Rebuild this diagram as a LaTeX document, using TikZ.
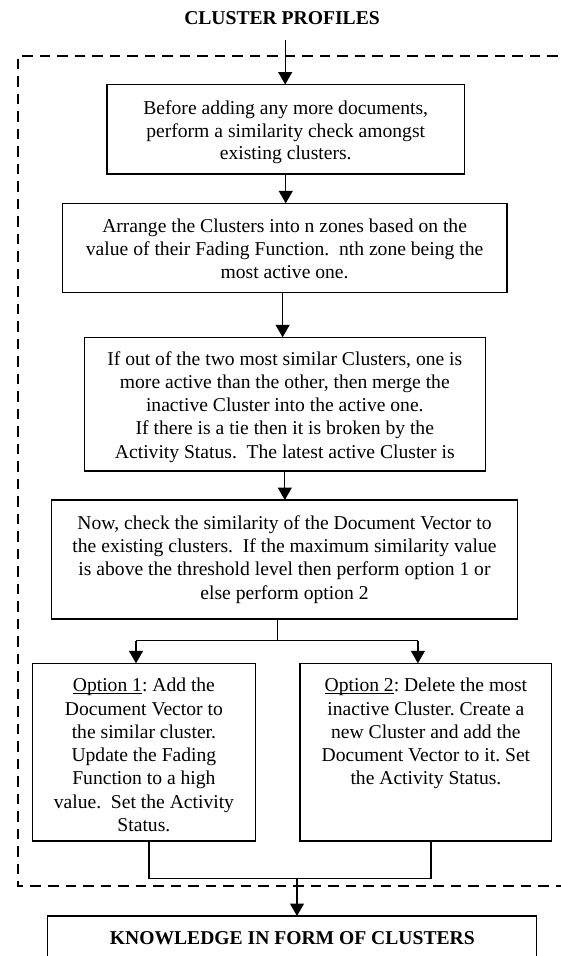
\documentclass[tikz,border=0pt]{standalone}
\usepackage{fontspec}
\setmainfont{Liberation Serif}
\usetikzlibrary{arrows.meta}
\newsavebox{\ulbox}
\newcommand{\myul}[1]{\sbox{\ulbox}{#1}\rlap{\rule[-2.2pt]{\wd\ulbox}{0.9pt}}\usebox{\ulbox}}
\newcommand{\mlines}[1]{\begin{tabular}[t]{@{}c@{}}#1\end{tabular}}
\newcommand{\bodyfont}{\fontsize{19.6}{23.3}\selectfont\frenchspacing}
\newcommand{\bodyfontb}{\fontsize{19.6}{22.8}\selectfont\frenchspacing}
\frenchspacing
\begin{document}
\begin{tikzpicture}[x=1pt,y=-1pt,
  box/.style={draw, line width=1.25pt, inner sep=0pt, outer sep=0pt, anchor=north west},
  txt/.style={inner sep=0pt, outer sep=0pt, anchor=base, font=\bodyfont},
  conn/.style={line width=1.25pt},
  arr/.style={conn, -{Triangle[width=14pt,length=12.5pt]}},
  dashbox/.style={line width=2pt, dash pattern=on 10.5pt off 7pt}]
\useasboundingbox (0,0) rectangle (561,956);
% dashed frame (right side runs off the page)
\draw[dashbox] (575,56) -- (17.5,56) -- (17.5,885.5) -- (575,885.5);
% title
\node[txt, font=\bodyfont\bfseries] (title) at (282,24) {CLUSTER PROFILES};
% boxes
\node[box, minimum width=357.5pt, minimum height=89.5pt] (b1) at (107,84.5) {};
\node[box, minimum width=444.7pt, minimum height=89.4pt] (b2) at (62.3,203.3) {};
\node[box, minimum width=400.8pt, minimum height=133.7pt] (b3) at (84.4,337.3) {};
\node[box, minimum width=466.5pt, minimum height=119pt] (b4) at (51.2,500) {};
\node[box, minimum width=223.2pt, minimum height=177.7pt] (b5) at (32.3,663.3) {};
\node[box, minimum width=251.7pt, minimum height=177.7pt] (b6) at (300,663.3) {};
\node[box, minimum width=488.9pt, minimum height=80pt] (kb) at (47.8,916) {};
% texts
\node[txt, font=\bodyfontb] (t1) at (285.7,114.3) {\mlines{Before adding any more documents,\\perform a similarity check amongst\\existing clusters.}};
\node[txt] (t2) at (284.6,232.3) {\mlines{Arrange the Clusters into n zones based on the\\value of their Fading Function.\ \ nth zone being the\\most active one.}};
\node[txt] (t3) at (284.8,365) {\mlines{If out of the two most similar Clusters, one is\\more active than the other, then merge the\\inactive Cluster into the active one.\\If there is a tie then it is broken by the\\Activity Status.\ \ The latest active Cluster is}};
\node[txt] (t4) at (284.5,529.3) {\mlines{Now, check the similarity of the Document Vector to\\the existing clusters.\ \ If the maximum similarity value\\is above the threshold level then perform option 1 or\\else perform option 2}};
\node[txt] (t5) at (143.9,691.7) {\mlines{\myul{Option 1}: Add the\\Document Vector to\\the similar cluster.\\Update the Fading\\Function to a high\\value.\ \ Set the Activity\\Status.}};
\node[txt] (t6) at (425.9,691.7) {\mlines{\myul{Option 2}: Delete the most\\inactive Cluster. Create a\\new Cluster and add the\\Document Vector to it. Set\\the Activity Status.}};
\node[txt, font=\bodyfont\bfseries] (t7) at (292.3,944) {KNOWLEDGE IN FORM OF CLUSTERS};
% connectors
\coordinate (a0) at (285.2,40);
\draw[arr] (a0) -- (a0 |- b1.north);
\draw[arr] (b1.south) -- (b1.south |- b2.north);
\coordinate (a2) at (282.6,300);
\draw[arr] (a2 |- b2.south) -- (a2 |- b3.north);
\draw[arr] (b3.south) -- (b3.south |- b4.north);
\coordinate (s) at (277.5,640.7);
\coordinate (sl) at (136,640.7);
\coordinate (sr) at (417.9,640.7);
\draw[conn] (s |- b4.south) -- (s);
\draw[conn] (sl) -- (sr);
\draw[arr] (sl) -- (sl |- b5.north);
\draw[arr] (sr) -- (sr |- b6.north);
\coordinate (ml) at (149,878.3);
\coordinate (mr) at (431,878.3);
\coordinate (mm) at (297,878.3);
\draw[conn] (ml |- b5.south) -- (ml) -- (mr) -- (mr |- b6.south);
\draw[arr] (mm) -- (mm |- kb.north);
\end{tikzpicture}
\end{document}
